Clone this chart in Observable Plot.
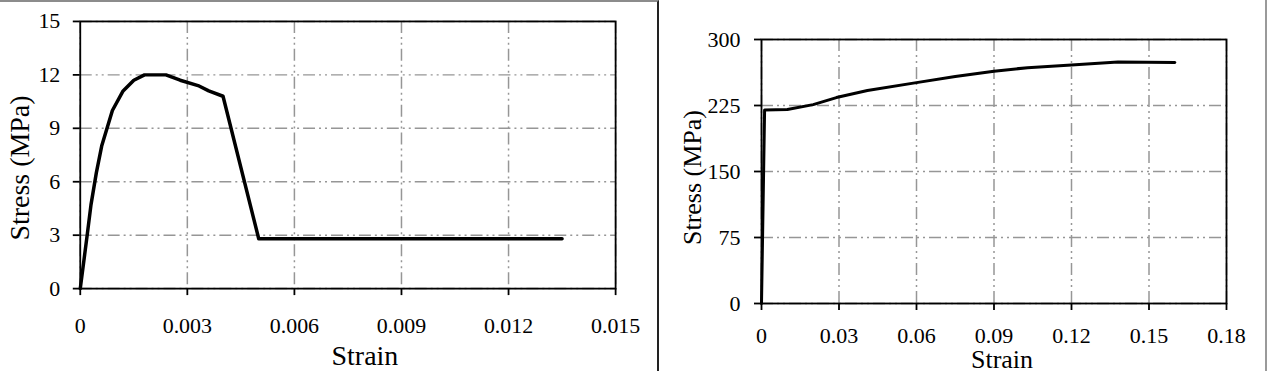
<!DOCTYPE html>
<html>
<head>
<meta charset="utf-8">
<script src="https://cdn.jsdelivr.net/npm/d3@7"></script>
<script src="https://cdn.jsdelivr.net/npm/@observablehq/plot@0.6"></script>
<style>
  html, body { margin: 0; padding: 0; background: #fff; }
  #wrap { position: relative; width: 1275px; height: 371px; overflow: hidden; font-family: "Liberation Serif", "Times New Roman", serif; }
  #left { position: absolute; left: 0; top: 0; width: 659px; height: 371px; border-top: 2px solid #8c8c8c; border-right: 2px solid #222; box-sizing: border-box; }
  #right { position: absolute; left: 661px; top: 0; width: 606px; height: 371px; border-right: 2px solid #9a9a9a; box-sizing: border-box; }
  svg { display: block; position: absolute; top: 0; overflow: visible; }
</style>
</head>
<body>
<div id="wrap">
  <div id="left"></div>
  <div id="right"></div>
</div>
<script>
// Concrete (left chart)
const concreteStrain = [0, 0.0002, 0.0003, 0.00045, 0.0006, 0.0009, 0.0012, 0.0015, 0.0018, 0.0024, 0.0028, 0.0033, 0.0036, 0.004, 0.005, 0.0135];
const concreteStress = [0, 3.1, 4.7, 6.5, 8.0, 10.0, 11.1, 11.7, 12.0, 12.0, 11.7, 11.4, 11.1, 10.8, 2.8, 2.8];
const concreteXTicks = [0, 0.003, 0.006, 0.009, 0.012, 0.015];
const concreteYTicks = [0, 3, 6, 9, 12, 15];

// Steel (right chart)
const steelStrain = [0, 0.0012, 0.01, 0.02, 0.029, 0.041, 0.06, 0.075, 0.09, 0.103, 0.12, 0.138, 0.16];
const steelStress = [0, 220, 220.5, 226, 234, 242, 251, 258, 264, 268, 271, 274.5, 274];
const steelXTicks = [0, 0.03, 0.06, 0.09, 0.12, 0.15, 0.18];
const steelYTicks = [0, 75, 150, 225, 300];

const xLabel = "Strain";
const yLabel = "Stress (MPa)";

const FONT = '"Liberation Serif", "Times New Roman", serif';
const gridStyle = { stroke: "#969696", strokeOpacity: 1, strokeWidth: 1.5, strokeDasharray: "12,4,2,4,2,4" };

function chart(opts) {
  const data = opts.xs.map((x, i) => ({ x, y: opts.ys[i] }));
  return Plot.plot({
    width: opts.width, height: 371,
    marginLeft: opts.ml, marginRight: opts.mr, marginTop: opts.mt, marginBottom: opts.mb,
    style: { fontFamily: FONT, background: "transparent", color: "#000", overflow: "visible" },
    x: { domain: opts.xdom },
    y: { domain: opts.ydom },
    marks: [
      Plot.gridX(opts.xt, gridStyle),
      Plot.gridY(opts.yt, gridStyle),
      Plot.axisX(opts.xt, { tickSize: 7, tickPadding: opts.xpad, fontSize: 22, label: null, tickFormat: d => String(d), strokeWidth: 1.8, color: "#000" }),
      Plot.axisY(opts.yt, { tickSize: 7, tickPadding: opts.ypad, fontSize: 22, label: null, tickFormat: d => String(d), strokeWidth: 1.8, color: "#000" }),
      Plot.line(data, { x: "x", y: "y", stroke: "#000", strokeWidth: opts.lw, strokeLinejoin: "round", strokeLinecap: "round" }),
      Plot.frame({ stroke: "#000", strokeWidth: 1.8 }),
      Plot.text([xLabel], { text: d => d, frameAnchor: "bottom", textAnchor: "middle", lineAnchor: "bottom", dx: opts.xtdx, dy: opts.xtdy, fontSize: opts.tfs, fill: "#000" }),
      Plot.text([yLabel], { text: d => d, frameAnchor: "left", textAnchor: "middle", lineAnchor: "middle", rotate: -90, dx: opts.ytdx, dy: opts.ytdy, fontSize: opts.tfs, fill: "#000" })
    ]
  });
}

const left = chart({
  width: 659, ml: 80, mr: 42, mt: 19, mb: 84,
  xs: concreteStrain, ys: concreteStress,
  xdom: [0, 0.015], ydom: [0, 15], xt: concreteXTicks, yt: concreteYTicks,
  xpad: 22, ypad: 13, lw: 3.5,
  xtdx: 17, xtdy: 77, ytdx: -60, ytdy: 13, tfs: 28
});
left.style.left = "0px";
document.getElementById("left").appendChild(left);

const right = chart({
  width: 604, ml: 100, mr: 39, mt: 39, mb: 68,
  xs: steelStrain, ys: steelStress,
  xdom: [0, 0.18], ydom: [0, 300], xt: steelXTicks, yt: steelYTicks,
  xpad: 17, ypad: 14, lw: 3,
  xtdx: 8, xtdy: 64, ytdx: -69, ytdy: 6, tfs: 26
});
right.style.left = "0px";
document.getElementById("right").appendChild(right);
</script>
</body>
</html>
